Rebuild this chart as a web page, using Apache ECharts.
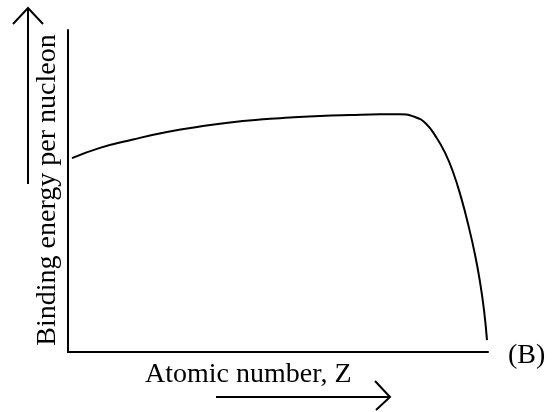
<!DOCTYPE html>
<html>
<head>
<meta charset="utf-8">
<title>Binding energy per nucleon</title>
<script src="https://cdn.jsdelivr.net/npm/echarts@6/dist/echarts.min.js"></script>
<style>
  html, body { margin: 0; padding: 0; background: #fff; }
  #chart { width: 552px; height: 412px; }
</style>
</head>
<body>
<div id="chart"></div>
<script>
// Relative atomic number (0-100) and binding energy per nucleon (arbitrary units)
const atomicNumber = [0.95, 7.62, 15.48, 23.57, 31.43, 38.57, 45.71, 52.86, 60.0, 67.14, 74.29, 79.05,
  82.62, 85.24, 87.62, 89.76, 91.67, 93.57, 95.24, 96.9, 98.1, 99.05, 99.76];
const bindingEnergy = [6.02, 6.34, 6.60, 6.83, 7.00, 7.13, 7.22, 7.28, 7.33, 7.36, 7.38, 7.38,
  7.30, 7.09, 6.68, 6.19, 5.59, 4.81, 3.98, 3.03, 2.17, 1.30, 0.37];
const yLabel = 'Binding energy per nucleon';
const xLabel = 'Atomic number, Z';
const panelTag = '(B)';

const curve = atomicNumber.map((z, i) => [z, bindingEnergy[i]]);
const font = '28px "Liberation Serif"';
const ink = '#000';

const chart = echarts.init(document.getElementById('chart'));
const plainAxis = {
  type: 'value',
  axisLine: { show: true, lineStyle: { color: ink, width: 2 } },
  axisTick: { show: false },
  axisLabel: { show: false },
  splitLine: { show: false }
};

chart.setOption({
  animation: false,
  backgroundColor: '#fff',
  grid: { left: 68, right: 64, top: 30, bottom: 60 },
  xAxis: Object.assign({}, plainAxis, { min: 0, max: 100 }),
  yAxis: Object.assign({}, plainAxis, { min: 0, max: 10 }),
  series: [{
    type: 'line',
    data: curve,
    smooth: 0.5,
    showSymbol: false,
    lineStyle: { color: ink, width: 2 }
  }],
  graphic: [
    // vertical axis caption and its arrow
    {
      type: 'text', x: 48, y: 190, rotation: Math.PI / 2,
      style: { text: yLabel, font: font, fill: ink, align: 'center', verticalAlign: 'middle' }
    },
    { type: 'line', shape: { x1: 28, y1: 184, x2: 28, y2: 8 }, style: { stroke: ink, lineWidth: 2 } },
    { type: 'polyline', shape: { points: [[13, 24], [28, 8], [43, 24]] }, style: { stroke: ink, lineWidth: 2, fill: null } },
    // horizontal axis caption and its arrow
    {
      type: 'text', x: 145, y: 375,
      style: { text: xLabel, font: font, fill: ink, align: 'left', verticalAlign: 'middle' }
    },
    { type: 'line', shape: { x1: 216, y1: 397, x2: 390, y2: 397 }, style: { stroke: ink, lineWidth: 2 } },
    { type: 'polyline', shape: { points: [[375, 381], [390, 397], [376, 410]] }, style: { stroke: ink, lineWidth: 2, fill: null } },
    // panel tag
    {
      type: 'text', x: 508, y: 356,
      style: { text: panelTag, font: font, fill: ink, align: 'left', verticalAlign: 'middle' }
    }
  ]
});
</script>
</body>
</html>
